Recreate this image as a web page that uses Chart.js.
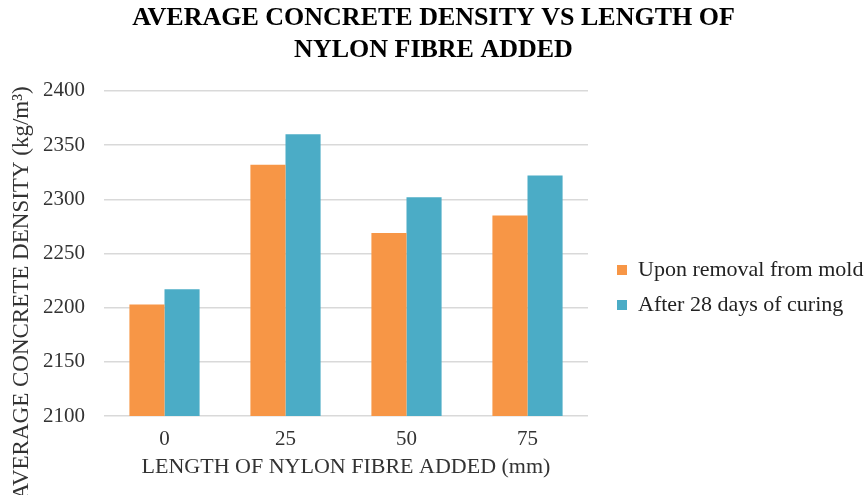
<!DOCTYPE html>
<html>
<head>
<meta charset="utf-8">
<script src="https://cdn.jsdelivr.net/npm/chart.js@4/dist/chart.umd.min.js"></script>
<style>
  html, body { margin: 0; padding: 0; background: #ffffff; }
  #wrap { width: 867px; height: 495px; }
</style>
</head>
<body>
<div id="wrap"><canvas id="c" width="867" height="495"></canvas></div>
<script>
// Fibre lengths (mm) and the measured average densities (kg/m³)
const fibreLengths = ['0', '25', '50', '75'];
const densityOnRemoval = [2203, 2332, 2269, 2285];
const densityAfterCuring = [2217, 2360, 2302, 2322];
const seriesNames = ['Upon removal from mold', 'After 28 days of curing'];

const SERIF = "'Liberation Serif', 'Times New Roman', serif";
const yTitleText = 'AVERAGE CONCRETE DENSITY (kg/m³)';

// Rotated y-axis caption, centred between the top of the plot and the bottom edge
const yCaption = {
  id: 'yCaption',
  afterDraw(chart) {
    const { ctx, chartArea } = chart;
    ctx.save();
    ctx.font = '23px ' + SERIF;
    ctx.fillStyle = '#333333';
    ctx.textAlign = 'center';
    ctx.textBaseline = 'middle';
    ctx.translate(22, (chartArea.top + chart.height) / 2);
    ctx.rotate(-Math.PI / 2);
    ctx.fillText(yTitleText, 0, 0);
    ctx.restore();
  }
};

new Chart(document.getElementById('c'), {
  type: 'bar',
  data: {
    labels: fibreLengths,
    datasets: [
      { label: seriesNames[0], data: densityOnRemoval, backgroundColor: '#F79646' },
      { label: seriesNames[1], data: densityAfterCuring, backgroundColor: '#4BACC6' }
    ]
  },
  options: {
    responsive: false,
    animation: false,
    layout: { padding: 0 },
    datasets: { bar: { categoryPercentage: 0.58, barPercentage: 1.0 } },
    scales: {
      x: {
        grid: { display: false },
        border: { display: false },
        ticks: { color: '#333333', font: { family: SERIF, size: 21 }, padding: 3 },
        title: {
          display: true,
          text: 'LENGTH OF NYLON FIBRE ADDED (mm)',
          color: '#333333',
          font: { family: SERIF, size: 22 },
          padding: { top: 0, bottom: 15 }
        },
        afterFit(s) { s.height = 79; }
      },
      y: {
        min: 2100,
        max: 2400,
        border: { display: false },
        grid: { color: '#D9D9D9', lineWidth: 1.5, drawTicks: false },
        ticks: {
          stepSize: 50,
          color: '#333333',
          font: { family: SERIF, size: 21 },
          padding: 19,
          callback: (v) => String(v)
        },
        afterFit(s) { s.width = 104; }
      },
      // empty spacer between the plot and the legend
      gap: {
        position: 'right',
        display: true,
        grid: { display: false },
        border: { display: false },
        ticks: { display: false },
        afterFit(s) { s.width = 16; }
      }
    },
    plugins: {
      title: {
        display: true,
        text: ['AVERAGE CONCRETE DENSITY VS LENGTH OF', 'NYLON FIBRE ADDED'],
        color: '#000000',
        font: { family: SERIF, size: 26, weight: 'bold', lineHeight: 1.23 },
        padding: { top: 2, bottom: 25 }
      },
      legend: {
        position: 'right',
        maxWidth: 263,
        title: {
          display: true,
          text: '',
          font: { size: 10, lineHeight: 1.2 },
          padding: { top: 0, bottom: 68 }
        },
        labels: {
          color: '#222222',
          font: { family: SERIF, size: 22 },
          boxWidth: 10,
          boxHeight: 10,
          padding: 13
        }
      },
      tooltip: { enabled: false }
    }
  },
  plugins: [yCaption]
});
</script>
</body>
</html>
